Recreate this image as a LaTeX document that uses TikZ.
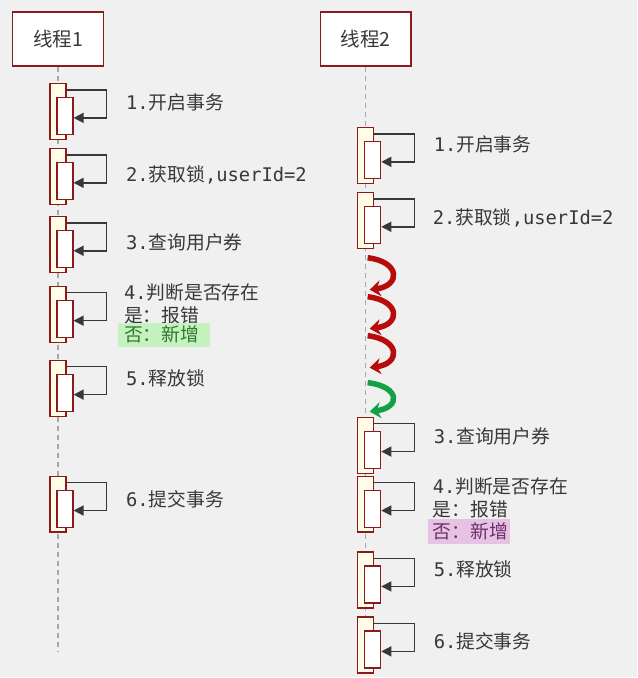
\documentclass[tikz,border=0pt]{standalone}
\usepackage{fontspec}
\usepackage{xcolor}
\usepackage{tikz}
\usetikzlibrary{arrows.meta, positioning}

\newfontfamily\cjk{Noto Sans CJK SC}
\newfontfamily\mono{DejaVu Sans Mono}

\definecolor{bg}{HTML}{F0F0F0}
\definecolor{frame}{HTML}{8B1A1A}
\definecolor{cream}{HTML}{FFFDE8}
\definecolor{txt}{HTML}{383838}
\definecolor{lifegray}{HTML}{A8A8A8}
\definecolor{spinred}{HTML}{B80C0C}
\definecolor{spingreen}{HTML}{14A046}
\definecolor{hlgreen}{HTML}{C6F2C0}
\definecolor{txtgreen}{HTML}{2F7A2F}
\definecolor{hlpink}{HTML}{E6C3E3}
\definecolor{txtpink}{HTML}{6B3068}

\tikzset{
  thread/.style={draw=frame, fill=white, line width=1.3pt, minimum width=91pt,
    minimum height=54pt, text=txt, font=\cjk\fontsize{19.5}{22}\selectfont},
  outerbar/.style={draw=frame, fill=cream, line width=1.3pt, minimum width=16pt,
    minimum height=56pt, anchor=north, inner sep=0pt},
  innerbar/.style={draw=frame, fill=white, line width=1.3pt, minimum width=16pt,
    minimum height=37pt, anchor=north, inner sep=0pt},
  selfloop/.style={draw=txt, line width=1.5pt, -{Triangle[length=10pt,width=10pt]}},
  lifeline/.style={draw=lifegray, line width=1.3pt, dash pattern=on 5pt off 4pt},
  steplabel/.style={anchor=west, inner sep=0pt, text=txt,
    font=\cjk\fontsize{18.8}{21}\selectfont},
  spin/.style={line width=5.5pt, -{Stealth[length=11pt,width=16pt]}},
}

\begin{document}
\begin{tikzpicture}[x=1pt, y=-1pt]
    % Hintergrund
    \fill[bg] (0,0) rectangle (638,678);

    % Threads und Lebenslinien
    \node[thread] (t1) at (58,39) {线程1};
    \node[thread] (t2) at (366,39) {线程2};
    \coordinate (end1) at (58,653);
    \coordinate (end2) at (366,678);
    \draw[lifeline] (t1.south) -- (end1);
    \draw[lifeline] (t2.south) -- (end2);

    % Aktivierungen Thread 1
    \foreach \n/\y in {1/83, 2/148, 3/216, 4/286, 5/360, 6/476} {
        \node[outerbar] (a\n) at (58,\y) {};
        \node[innerbar] (b\n) at (65,{\y+14}) {};
        \draw[selfloop] ([yshift=-7pt]a\n.north east) -- ++(40,0)
            |- ([yshift=-21pt]b\n.north east);
    }

    % Aktivierungen Thread 2
    \foreach \n/\y in {1/127, 2/192, 3/417, 4/476, 5/552, 6/617} {
        \node[outerbar] (c\n) at (366,\y) {};
        \node[innerbar] (d\n) at (373,{\y+14}) {};
        \draw[selfloop] ([yshift=-7pt]c\n.north east) -- ++(40,0)
            |- ([yshift=-21pt]d\n.north east);
    }

    % Texte Thread 1
    \node[steplabel] (l1) at (126,102) {{\mono 1.}开启事务};
    \node[steplabel] (l2) at (126,175) {{\mono 2.}获取锁{\mono ,userId=2}};
    \node[steplabel] (l3) at (126,243) {{\mono 3.}查询用户券};
    \node[steplabel] (l4) at (124,293) {{\mono 4.}判断是否存在};
    \node[steplabel] (l4b) at (124,316) {是：报错};
    \node[steplabel, fill=hlgreen, text=txtgreen, inner xsep=6pt, text width=80pt,
        align=left, minimum height=24pt] (l4c) at (118,335) {否：新增};
    \node[steplabel] (l5) at (126,379) {{\mono 5.}释放锁};
    \node[steplabel] (l6) at (126,500) {{\mono 6.}提交事务};

    % Texte Thread 2
    \node[steplabel] (r1) at (434,145) {{\mono 1.}开启事务};
    \node[steplabel] (r2) at (433,218) {{\mono 2.}获取锁{\mono ,userId=2}};
    \node[steplabel] (r3) at (434,437) {{\mono 3.}查询用户券};
    \node[steplabel] (r4) at (433,487) {{\mono 4.}判断是否存在};
    \node[steplabel] (r4b) at (433,510) {是：报错};
    \node[steplabel, fill=hlpink, text=txtpink, inner xsep=5pt, text width=72pt,
        align=left, minimum height=25pt] (r4c) at (428,532) {否：新增};
    \node[steplabel] (r5) at (434,570) {{\mono 5.}释放锁};
    \node[steplabel] (r6) at (434,642) {{\mono 6.}提交事务};

    % Warten auf die Sperre
    \foreach \k/\ya/\yb/\col in {1/258/290/spinred, 2/297/329/spinred,
                                 3/336/368/spinred, 4/383/412/spingreen} {
        \coordinate (s\k) at (368,\ya);
        \coordinate (e\k) at (370,\yb);
        \draw[spin, \col] (s\k) .. controls (401,{\ya+4}) and (401,{\yb-4}) .. (e\k);
    }
\end{tikzpicture}
\end{document}
